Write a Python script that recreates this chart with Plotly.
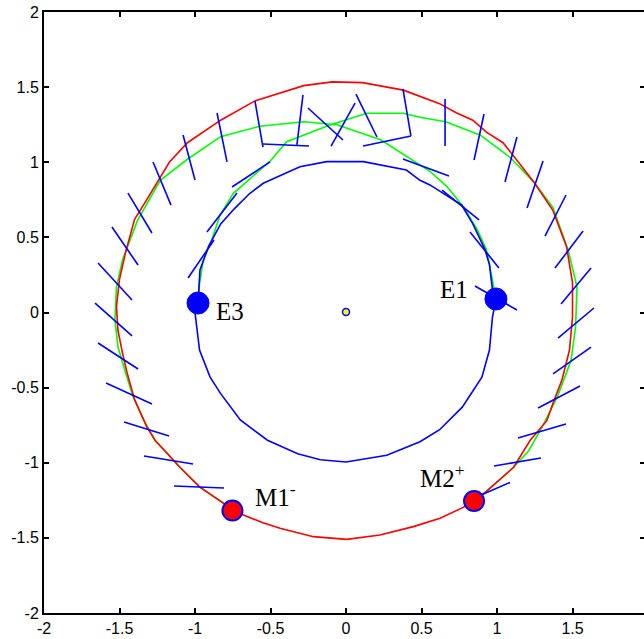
import plotly.graph_objects as go

# ---------------- data ----------------
# red outer loop (M1- -> bottom -> M2+ -> right side -> top -> left side -> M1-)
red_x = [-0.752, -0.68, -0.55, -0.437, -0.216, 0.004, 0.225, 0.446, 0.623, 0.777, 0.848,
         0.93, 1.11, 1.22, 1.33, 1.38, 1.43, 1.48, 1.50, 1.50, 1.46, 1.37, 1.25, 1.15,
         1.04, 0.93, 0.84, 0.73, 0.62, 0.38, 0.11, -0.09, -0.28, -0.60, -0.83, -1.05,
         -1.17, -1.32, -1.40, -1.46, -1.50, -1.52, -1.51, -1.48, -1.45, -1.40, -1.32,
         -1.265, -1.18, -1.10, -0.97, -0.81, -0.752]
red_y = [-1.318, -1.348, -1.40, -1.436, -1.492, -1.51, -1.481, -1.425, -1.37, -1.297, -1.255,
         -1.19, -1.03, -0.85, -0.72, -0.58, -0.45, -0.25, -0.03, 0.20, 0.44, 0.68, 0.86, 0.99,
         1.13, 1.20, 1.28, 1.33, 1.39, 1.48, 1.53, 1.535, 1.51, 1.41, 1.28, 1.13,
         1.00, 0.75, 0.62, 0.40, 0.22, 0.04, -0.12, -0.27, -0.40, -0.58, -0.76,
         -0.85, -0.94, -1.03, -1.16, -1.27, -1.318]

# green path 1: M1- -> outer left -> top -> inner right -> E1
g1_x = [-0.752, -0.81, -0.97, -1.10, -1.18, -1.265, -1.34, -1.41, -1.46, -1.51, -1.53,
        -1.52, -1.48, -1.38, -1.23, -1.05, -0.83, -0.57, -0.28, -0.06, 0.23, 0.42,
        0.556, 0.667, 0.78, 0.87, 0.93, 0.965, 0.993]
g1_y = [-1.318, -1.27, -1.16, -1.03, -0.94, -0.85, -0.715, -0.56, -0.40, -0.23, -0.05,
        0.17, 0.35, 0.615, 0.88, 1.02, 1.17, 1.24, 1.27, 1.25, 1.15, 1.03,
        0.94, 0.84, 0.70, 0.55, 0.42, 0.24, 0.09]

# green path 2: E3 -> inner left -> top -> outer right -> M2+
g2_x = [-0.98, -0.97, -0.945, -0.89, -0.834, -0.746, -0.50, -0.393, -0.106, 0.137, 0.38,
        0.49, 0.66, 0.89, 1.09, 1.25, 1.37, 1.47, 1.53, 1.52, 1.49, 1.40, 1.30, 1.21,
        1.11, 0.93, 0.848]
g2_y = [0.063, 0.19, 0.35, 0.48, 0.649, 0.793, 1.01, 1.137, 1.248, 1.326, 1.326,
        1.30, 1.27, 1.18, 1.03, 0.86, 0.70, 0.42, 0.17, -0.10, -0.32, -0.56, -0.76, -0.92,
        -1.03, -1.19, -1.255]

# blue inner loop: E3 -> top -> E1 -> bottom -> E3
b_x = [-0.98, -0.967, -0.91, -0.83, -0.74, -0.64, -0.548, -0.305, -0.128, 0.115, 0.40,
       0.49, 0.556, 0.766, 0.84, 0.92, 0.95, 0.97, 0.993,
       0.97, 0.95, 0.90, 0.77, 0.62, 0.49, 0.27, 0.0, -0.17, -0.32, -0.52, -0.70,
       -0.83, -0.90, -0.97, -1.0, -0.98]
b_y = [0.063, 0.283, 0.44, 0.59, 0.69, 0.79, 0.86, 0.97, 1.004, 1.004, 0.948,
       0.88, 0.849, 0.715, 0.59, 0.42, 0.32, 0.15, 0.09,
       -0.03, -0.25, -0.43, -0.63, -0.78, -0.86, -0.95, -0.995, -0.98, -0.94, -0.85, -0.715,
       -0.54, -0.43, -0.25, 0.0, 0.063]

# short blue needle segments (start / end)
seg_x0 = [-1.444, -1.278, -1.079, -0.854, -0.603, -0.550, -0.285, -0.252, 0.060, 0.066,
          0.113, 0.377, -0.503, 0.377, 0.656, 0.914, 1.132, 1.305, 1.457, 1.570, 1.623,
          0.636, 0.821, 0.854, 1.642, 1.623, 1.550, 1.457, 1.291, 1.086,
          -1.550, -1.642, -1.662, -1.642, -1.589, -1.470, -1.338, -1.139, -1.046, -0.921]
seg_y0 = [0.795, 1.002, 1.181, 1.328, 1.408, 1.121, 1.448, 1.361, 1.394, 1.454,
          1.108, 1.488, 1.002, 1.022, 1.421, 1.321, 1.168, 1.008, 0.782, 0.542, 0.296,
          0.815, 0.536, 0.176, 0.030, -0.230, -0.489, -0.742, -0.968, -1.131,
          0.569, 0.329, 0.063, -0.203, -0.469, -0.729, -0.955, -1.155, 0.230, 0.536]
seg_x1 = [-1.285, -1.159, -1.000, -0.788, -0.550, -0.245, -0.325, -0.020, -0.099, 0.205,
          0.430, 0.430, -0.755, 0.682, 0.656, 0.848, 1.053, 1.199, 1.318, 1.384, 1.424,
          0.881, 1.013, 1.132, 1.404, 1.371, 1.272, 1.139, 0.980, 0.887,
          -1.377, -1.417, -1.417, -1.377, -1.285, -1.172, -1.013, -0.808, -0.874, -0.722]
seg_y1 = [0.529, 0.715, 0.882, 1.002, 1.101, 1.108, 1.115, 1.148, 1.108, 1.168,
          1.175, 1.175, 0.835, 0.908, 1.108, 1.015, 0.869, 0.695, 0.509, 0.296, 0.057,
          0.616, 0.296, 0.017, -0.170, -0.409, -0.636, -0.835, -1.022, -1.218,
          0.316, 0.083, -0.156, -0.376, -0.609, -0.822, -1.008, -1.168, 0.483, 0.795]

# labelled points
pt_names = ["E1", "E3", "M1<sup>-</sup>", "M2<sup>+</sup>"]
pt_x = [0.993, -0.980, -0.752, 0.848]
pt_y = [0.090, 0.063, -1.318, -1.255]
lab_x = [0.715, -0.768, -0.47, 0.64]
lab_y = [0.156, 0.010, -1.215, -1.088]

center_x = [0.0]
center_y = [0.003]

tick_vals = [-2, -1.5, -1, -0.5, 0, 0.5, 1, 1.5, 2]
tick_text = ["-2", "-1.5", "-1", "-0.5", "0", "0.5", "1", "1.5", "2"]

# ---------------- figure ----------------
BLUE, RED, GREEN = "#0000FF", "#FF0000", "#00FF00"
LW = 1.6
fig = go.Figure()

fig.add_trace(go.Scatter(x=g1_x, y=g1_y, mode="lines", line=dict(color=GREEN, width=LW),
                         hoverinfo="skip"))
fig.add_trace(go.Scatter(x=g2_x, y=g2_y, mode="lines", line=dict(color=GREEN, width=LW),
                         hoverinfo="skip"))
fig.add_trace(go.Scatter(x=red_x, y=red_y, mode="lines", line=dict(color=RED, width=LW),
                         hoverinfo="skip"))
fig.add_trace(go.Scatter(x=b_x, y=b_y, mode="lines", line=dict(color=BLUE, width=LW),
                         hoverinfo="skip"))

sx, sy = [], []
for a, b, c, d in zip(seg_x0, seg_y0, seg_x1, seg_y1):
    sx += [a, c, None]
    sy += [b, d, None]
fig.add_trace(go.Scatter(x=sx, y=sy, mode="lines", line=dict(color=BLUE, width=LW),
                         hoverinfo="skip"))

# E points (blue filled)
fig.add_trace(go.Scatter(x=pt_x[:2], y=pt_y[:2], mode="markers",
                         marker=dict(size=22, color=BLUE, line=dict(color=BLUE, width=1))))
# M points (red with blue edge)
fig.add_trace(go.Scatter(x=pt_x[2:], y=pt_y[2:], mode="markers",
                         marker=dict(size=20, color=RED, line=dict(color=BLUE, width=2))))
# centre
fig.add_trace(go.Scatter(x=center_x, y=center_y, mode="markers",
                         marker=dict(size=7, color="#FFFF00", line=dict(color=BLUE, width=1.5))))
# helper for right-side ticks
fig.add_trace(go.Scatter(x=[None], y=[None], yaxis="y2", showlegend=False))

for name, x, y in zip(pt_names, lab_x, lab_y):
    fig.add_annotation(x=x, y=y, text=name, showarrow=False,
                       font=dict(family="Liberation Serif", size=25, color="black"))

x_right = -2 + 600 / 151.0
fig.update_layout(
    width=644, height=639,
    margin=dict(l=44, r=0, t=12, b=26),
    paper_bgcolor="white", plot_bgcolor="white",
    showlegend=False,
    font=dict(family="Liberation Sans", size=16, color="black"),
    xaxis=dict(range=[-2, x_right], tickvals=tick_vals, ticktext=tick_text,
               showgrid=False, zeroline=False, showline=True, linecolor="black", linewidth=2,
               mirror="ticks", ticks="inside", ticklen=5, tickwidth=1.5, tickcolor="black"),
    yaxis=dict(range=[-2, 2], tickvals=tick_vals, ticktext=tick_text,
               showgrid=False, zeroline=False, showline=True, linecolor="black", linewidth=2,
               mirror=False, ticks="inside", ticklen=5, tickwidth=1.5, tickcolor="black"),
    yaxis2=dict(range=[-2, 2], overlaying="y", side="right", tickvals=tick_vals,
                showticklabels=False, showgrid=False, zeroline=False, showline=False,
                ticks="inside", ticklen=4, tickwidth=1.5, tickcolor="black"),
)

fig.write_html("out.html")
